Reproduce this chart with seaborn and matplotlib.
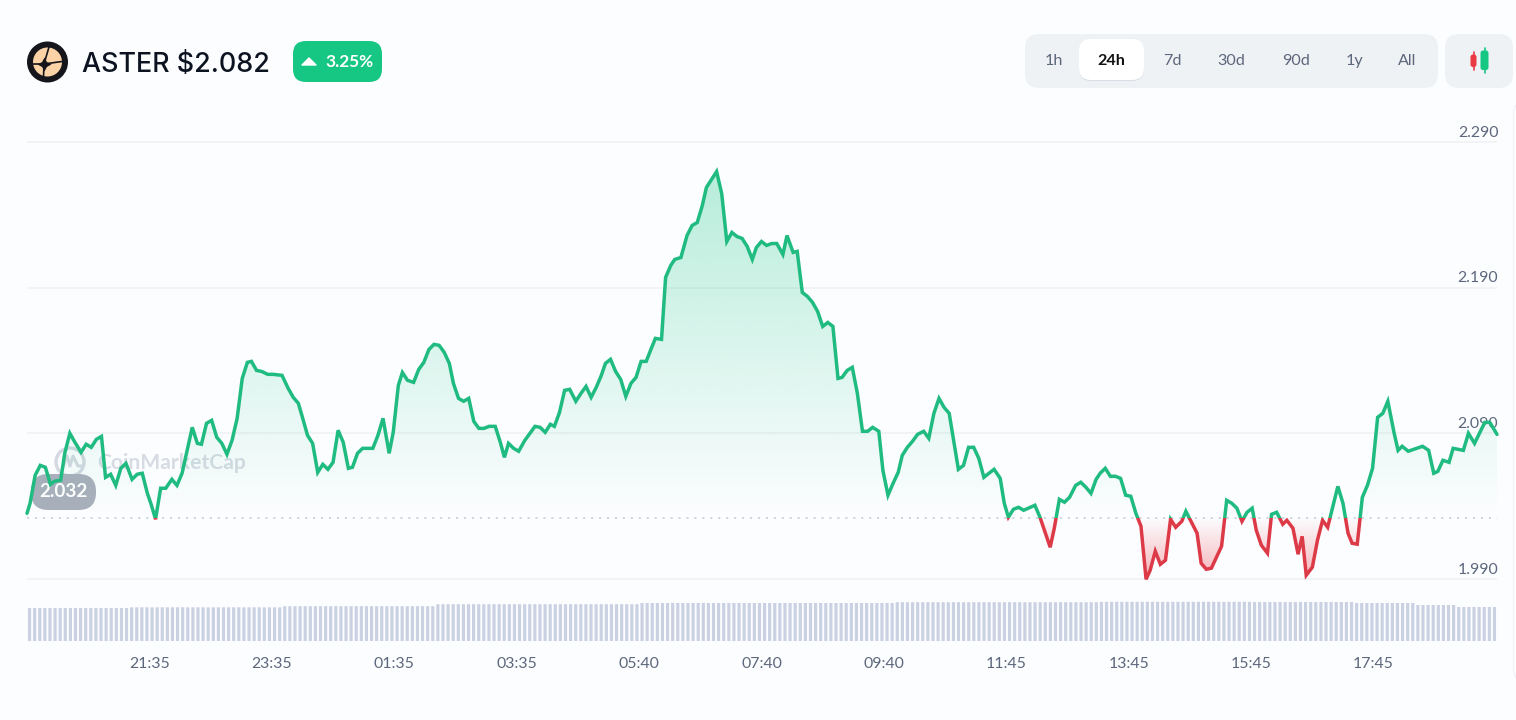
import matplotlib
matplotlib.use("Agg")
import matplotlib.pyplot as plt
import numpy as np
import pandas as pd
import seaborn as sns
from matplotlib.patches import Circle, FancyBboxPatch, PathPatch, Polygon, Rectangle
from matplotlib.path import Path

# Elapsed minutes since the start of the 24h window and the ASTER price at each vertex
minutes = [0, 3, 8, 13, 18, 23, 27, 33, 37, 42, 47, 53, 58, 63, 68, 73, 77, 82, 87, 92, 97, 103, 108, 113, 118, 122, 126,
           131, 136, 142, 147, 152, 162, 167, 171, 176, 181, 186, 191, 196, 201, 206, 211, 216, 220, 225, 230, 236, 241,
           250, 256, 261, 266, 270, 275, 280, 285, 290, 295, 300, 305, 310, 315, 319, 324, 329, 339, 344, 349, 355, 359,
           364, 368, 373, 379, 384, 389, 394, 399, 404, 409, 414, 418, 423, 428, 433, 438, 443, 448, 453, 459, 464, 468,
           472, 477, 482, 488, 493, 498, 503, 508, 513, 517, 522, 527, 532, 538, 543, 548, 553, 558, 563, 567, 572, 577,
           582, 587, 592, 597, 602, 607, 612, 616, 622, 626, 631, 635, 641, 647, 652, 657, 662, 666, 671, 676, 681, 686,
           691, 696, 701, 706, 711, 715, 720, 725, 730, 735, 741, 745, 751, 755, 760, 765, 770, 775, 780, 785, 790, 795,
           799, 804, 809, 814, 819, 824, 829, 835, 839, 844, 849, 854, 858, 863, 868, 873, 879, 884, 889, 894, 899, 904,
           908, 913, 918, 923, 928, 933, 938, 943, 948, 954, 958, 962, 967, 972, 977, 988, 993, 1003, 1007, 1012, 1017,
           1022, 1028, 1033, 1038, 1043, 1048, 1052, 1057, 1062, 1067, 1072, 1077, 1082, 1087, 1092, 1097, 1101, 1106,
           1111, 1116, 1121, 1126, 1132, 1136, 1142, 1147, 1151, 1156, 1161, 1171, 1176, 1181, 1186, 1191, 1196, 1201,
           1205, 1210, 1216, 1220, 1225, 1231, 1235, 1241, 1246, 1250, 1254, 1260, 1265, 1270, 1275, 1285, 1290, 1295,
           1299, 1304, 1309, 1314, 1319, 1324, 1329, 1334, 1340, 1344, 1348, 1354, 1368, 1374, 1379, 1383, 1388, 1394,
           1398, 1408, 1413, 1419, 1429, 1434, 1441]
prices = [2.0351, 2.0420, 2.0612, 2.0680, 2.0667, 2.0550, 2.0571, 2.0578, 2.0763, 2.0900, 2.0838, 2.0770, 2.0825, 2.0804,
          2.0859, 2.0879, 2.0598, 2.0619, 2.0543, 2.0660, 2.0694, 2.0584, 2.0619, 2.0626, 2.0488, 2.0406, 2.0310,
          2.0523, 2.0523, 2.0584, 2.0543, 2.0626, 2.0941, 2.0831, 2.0825, 2.0969, 2.0989, 2.0873, 2.0831, 2.0756, 2.0852,
          2.1003, 2.1277, 2.1387, 2.1394, 2.1332, 2.1325, 2.1305, 2.1305,
          2.1298, 2.1209, 2.1147, 2.1106, 2.1010, 2.0886, 2.0831, 2.0632, 2.0687, 2.0653, 2.0701, 2.0921, 2.0838, 2.0660,
          2.0667, 2.0763, 2.0797, 2.0797, 2.0886, 2.1003, 2.0763, 2.0907,
          2.1229, 2.1318, 2.1264, 2.1250, 2.1339, 2.1387, 2.1476, 2.1511, 2.1504, 2.1456, 2.1380, 2.1243, 2.1140, 2.1120,
          2.1140, 2.0982, 2.0934, 2.0934, 2.0948, 2.0948, 2.0838, 2.0735,
          2.0831, 2.0797, 2.0777, 2.0852, 2.0900, 2.0948, 2.0941, 2.0907, 2.0962, 2.0948, 2.1044, 2.1195, 2.1202, 2.1120,
          2.1174, 2.1222, 2.1147, 2.1216, 2.1298, 2.1380, 2.1408, 2.1325,
          2.1270, 2.1154, 2.1243, 2.1284, 2.1394, 2.1394, 2.1483, 2.1552, 2.1545, 2.1970, 2.2052, 2.2094, 2.2107, 2.2258,
          2.2327, 2.2347, 2.2464, 2.2588, 2.2642, 2.2697, 2.2546, 2.2217,
          2.2279, 2.2251, 2.2238, 2.2183, 2.2094, 2.2176, 2.2217, 2.2190, 2.2203, 2.2203, 2.2128, 2.2258, 2.2142, 2.2149,
          2.1867, 2.1840, 2.1799, 2.1737, 2.1634, 2.1661, 2.1634, 2.1277,
          2.1284, 2.1332, 2.1353, 2.1174, 2.0914, 2.0914, 2.0941, 2.0914, 2.0646, 2.0475, 2.0557, 2.0632, 2.0749, 2.0804,
          2.0845, 2.0893, 2.0914, 2.0866, 2.1037, 2.1140, 2.1078, 2.1037,
          2.0866, 2.0653, 2.0680, 2.0804, 2.0804, 2.0728, 2.0598, 2.0626, 2.0653, 2.0591, 2.0420, 2.0324, 2.0379, 2.0392,
          2.0372, 2.0406, 2.0324, 2.0118, 2.0248, 2.0447, 2.0427,
          2.0461, 2.0543, 2.0564, 2.0530, 2.0488, 2.0584, 2.0626, 2.0660, 2.0605, 2.0605, 2.0591, 2.0475, 2.0468, 2.0351,
          2.0262, 1.9898, 1.9960, 2.0091,
          2.0001, 2.0029, 2.0310, 2.0255, 2.0296, 2.0365, 2.0283, 2.0214, 2.0008, 1.9967, 1.9974, 2.0125, 2.0440, 2.0420,
          2.0386, 2.0296, 2.0358, 2.0386,
          2.0235, 2.0132, 2.0077, 2.0344, 2.0358, 2.0276, 2.0303, 2.0248, 2.0070, 2.0193, 1.9926, 1.9981, 2.0166, 2.0303,
          2.0255, 2.0536, 2.0420, 2.0214,
          2.0145, 2.0139, 2.0461, 2.0543, 2.0660, 2.1010, 2.1037, 2.1120, 2.0907, 2.0783, 2.0811, 2.0777, 2.0811, 2.0783,
          2.0626, 2.0639, 2.0715, 2.0701,
          2.0797, 2.0783, 2.0900, 2.0831, 2.0975, 2.0975, 2.0893]
baseline_price = 2.032

# Volume strip: how many consecutive bars share each level
volume_counts = [20, 30, 30, 40, 50, 40, 30, 20, 12, 8, 8]
volume_levels = [33.0, 33.7, 34.8, 36.8, 38.0, 38.8, 39.2, 39.0, 38.0, 36.0, 34.0]

price_ticks = [1.99, 2.09, 2.19, 2.29]
price_labels = ["1.990", "2.090", "2.190", "2.290"]
time_ticks = [120, 240, 360, 480, 600, 720, 840, 960, 1080, 1200, 1320]
time_labels = ["21:35", "23:35", "01:35", "03:35", "05:40", "07:40", "09:40", "11:45", "13:45", "15:45", "17:45"]
range_labels = ["1h", "24h", "7d", "30d", "90d", "1y", "All"]
range_centres = [1054, 1111, 1172, 1231, 1296, 1355, 1407]

GREEN = "#16c784"
LINE_GREEN = "#1fbb80"
RED = "#ea3943"
LINE_RED = "#dd3a47"
BG = "#fcfdff"
PANEL = "#eff2f5"
MUTED = "#5d677c"
GRID = "#f0f2f5"

sns.set_theme(style="white")
plt.rcParams["font.family"] = ["Lato", "DejaVu Sans"]

W, H = 1516, 720
fig = plt.figure(figsize=(W / 100, H / 100), dpi=100, facecolor=BG)


def px_axes(left, top, right, bottom, **kw):
    return fig.add_axes([left / W, 1 - bottom / H, (right - left) / W, (bottom - top) / H], **kw)


# Overlay in pixel units for the header, watermark and price pill
deco = px_axes(0, 0, W, H, zorder=0)
deco.set_xlim(0, W)
deco.set_ylim(H, 0)
deco.axis("off")


def pill(x0, y0, x1, y1, r, color, **kw):
    deco.add_patch(FancyBboxPatch((x0 + r, y0 + r), x1 - x0 - 2 * r, y1 - y0 - 2 * r,
                                  boxstyle=f"round,pad={r},rounding_size={r}", fc=color, ec="none", **kw))


# Token logo
deco.add_patch(Circle((47.5, 62), 20.5, fc="#15151b", ec="none"))
deco.add_patch(Circle((47.5, 62), 14.5, fc="#fbd3a6", ec="none"))
for end in [(49, 47), (62, 61.5), (33, 64), (43.5, 77)]:
    deco.plot([44, end[0]], [64, end[1]], color="#15151b", lw=1.2, solid_capstyle="butt")
deco.plot([44], [64], marker=(4, 1, 0), ms=10, color="#15151b", mew=0)

deco.text(82, 64.5, "ASTER $2.082", fontsize=19.4, family=["Inter", "DejaVu Sans"], fontweight="medium",
          color="#0d1421", va="center", ha="left")

# Daily change badge
pill(293, 41, 382, 82, 13, GREEN)
deco.add_patch(Polygon([(302, 65), (309, 58), (316, 65)], closed=True, fc="white", ec="white", lw=1, joinstyle="round"))
deco.text(350, 62, "3.25%", fontsize=12.4, color="white", ha="center", va="center", fontweight="bold")

# Range selector
pill(1025, 34, 1438, 88, 14, PANEL)
pill(1079, 41, 1144, 81, 12, "#d9dee6")
pill(1079, 39, 1144, 80, 12, "white")
for lab, cx in zip(range_labels, range_centres):
    active = lab == "24h"
    deco.text(cx, 61, lab, fontsize=11.6, ha="center", va="center",
              color="#111111" if active else MUTED, fontweight="bold" if active else "normal")

# Candlestick toggle
pill(1445, 34, 1513, 88, 14, PANEL)
deco.plot([1473.5, 1473.5], [52, 70], color=RED, lw=1.2)
pill(1470.5, 54.5, 1476.5, 67, 2.5, RED)
deco.plot([1484.5, 1484.5], [48, 73], color=GREEN, lw=1.2)
pill(1480.5, 50.5, 1488.5, 70, 2.5, GREEN)

# Faint card edge along the right of the chart
deco.add_patch(PathPatch(Path([(1516, 105), (1513.5, 110), (1513.5, 672), (1516, 678)]), fc="none", ec="#f1f3f6", lw=1))

# Watermark
deco.text(97, 463, "CoinMarketCap", fontsize=15.2, color="#cdd3de", ha="left", va="center", fontweight="bold", alpha=0.8)
deco.add_patch(Circle((70, 462), 14, fc="none", ec="#d3d8e2", lw=2.4))
deco.plot([62, 67, 70, 73, 78, 81], [470, 456, 466, 456, 466, 466], color="#d3d8e2", lw=2.2)

# Opening price pill
pill(31, 474, 96, 510, 17.5, "#a9afbc")
deco.text(63.5, 491.5, "2.032", fontsize=13.6, color="white", ha="center", va="center", fontweight="bold")

# Price chart
ax = px_axes(27, 100, 1497, 600, zorder=2)
ax.patch.set_alpha(0)
x_end = minutes[-1]
y_low = 1.99 - 21 / 1456.7
y_high = 2.29 + 42 / 1456.7

frame = pd.DataFrame({"minute": minutes, "price": prices})
area = ax.fill_between(minutes, prices, baseline_price, color="none", lw=0)
clip_path = Path(area.get_paths()[0].vertices)

# Vertical fades: strongest away from the opening price, none at it
ramp = np.linspace(0, 1, 256).reshape(-1, 1)


def gradient(colour, y_from, y_to, alpha_column):
    rgba = np.zeros((256, 1, 4))
    rgba[..., :3] = matplotlib.colors.to_rgb(colour)
    rgba[..., 3] = alpha_column
    img = ax.imshow(rgba, extent=(0, x_end, y_from, y_to), origin="lower",
                    aspect="auto", zorder=1, interpolation="bilinear")
    img.set_clip_path(clip_path, transform=ax.transData)


gradient(GREEN, baseline_price, max(prices), ramp * 0.30)
gradient(RED, min(prices), baseline_price, ramp[::-1] * 0.38)
ax.set_xlim(0, x_end)
ax.set_ylim(y_low, y_high)

# One trace per side of the opening price
for colour, (lo, hi) in ((LINE_GREEN, (baseline_price, y_high)), (LINE_RED, (y_low, baseline_price))):
    sns.lineplot(data=frame, x="minute", y="price", ax=ax, color=colour, linewidth=2.5,
                 estimator=None, sort=False, zorder=4)
    trace = ax.lines[-1]
    trace.set_solid_joinstyle("miter")
    trace.set_clip_path(Rectangle((-10, lo), x_end + 20, hi - lo, transform=ax.transData))

ax.axhline(baseline_price, color="#ccd2dd", lw=1.3, ls=(0, (1.2, 3.2)), zorder=3)

ax.set_yticks(price_ticks)
ax.set_yticklabels([])
ax.set_axisbelow(True)
ax.grid(axis="y", color=GRID, lw=1.3)
ax.grid(axis="x", visible=False)
ax.set_xticks(time_ticks)
ax.set_xticklabels(time_labels, fontsize=11.4, color=MUTED)
ax.tick_params(axis="both", length=0)
ax.tick_params(axis="x", pad=41.2)
ax.set_xlabel("")
ax.set_ylabel("")
sns.despine(ax=ax, left=True, bottom=True, right=True, top=True)
for val, lab in zip(price_ticks, price_labels):
    ax.annotate(lab, xy=(x_end, val), xytext=(1, 1.6), textcoords="offset points", ha="right", va="bottom",
                fontsize=11.4, color=MUTED, zorder=2)

# Volume strip
vol_ax = px_axes(27, 595, 1497, 641, zorder=1)
vol_ax.patch.set_alpha(0)
volume = np.repeat(volume_levels, volume_counts)
sns.barplot(x=np.arange(volume.size), y=volume, color="#c9d1e2", saturation=1, width=0.62, ax=vol_ax, linewidth=0)
for bar in vol_ax.patches:
    bar.set_snap(False)
vol_ax.set_xlim(-0.5, volume.size - 0.5)
vol_ax.set_ylim(0, 46)
vol_ax.axis("off")

fig.savefig("out.png", dpi=100, facecolor=BG)
